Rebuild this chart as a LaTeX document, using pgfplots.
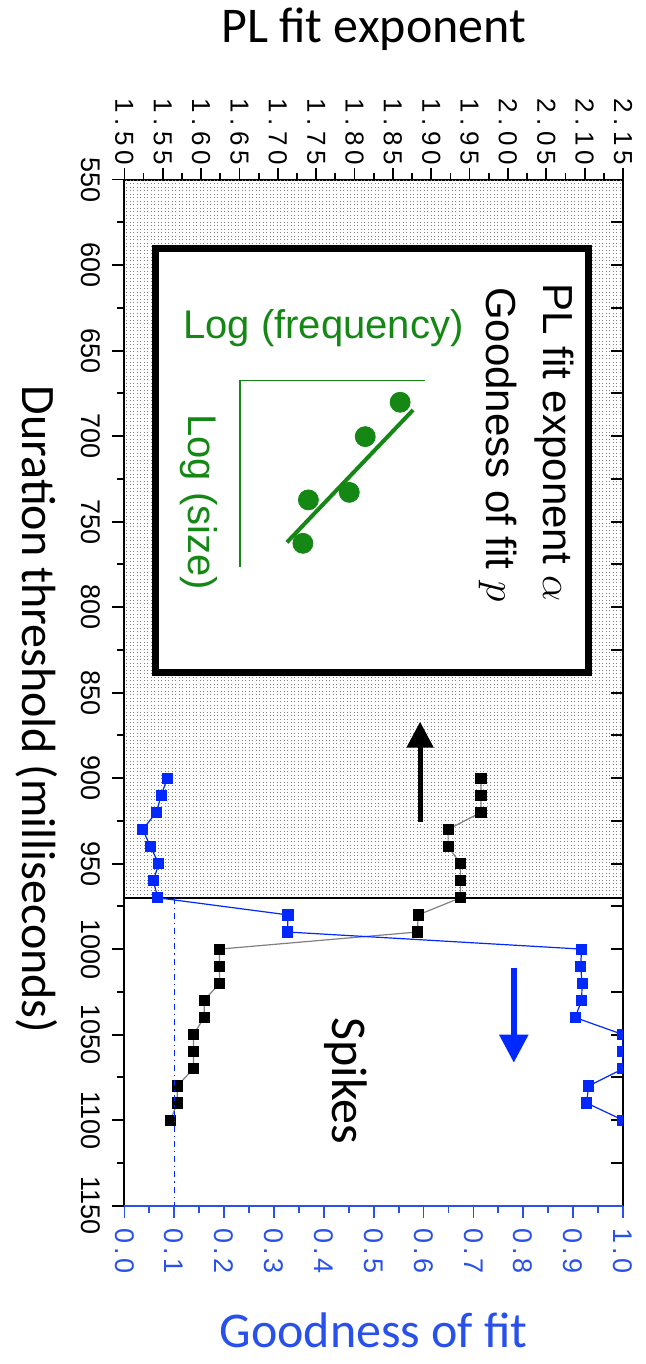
\documentclass[border=0pt]{standalone}
\usepackage{fontspec}
\usepackage{pgfplots}
\pgfplotsset{compat=1.18}
\usetikzlibrary{patterns,arrows.meta}
\setmainfont{Liberation Sans}
\newfontfamily\tickfont{Liberation Sans}
\newfontfamily\tickfontwide[LetterSpace=20]{Liberation Sans}
\newfontfamily\tickfontmid[LetterSpace=15]{Liberation Sans}
\newfontfamily\labfont{Carlito}
\definecolor{gofblue}{RGB}{0,40,255}
\definecolor{gofaxis}{RGB}{40,80,235}
\definecolor{inkgreen}{RGB}{20,135,20}
\pgfdeclarepatternformonly{finedots}{\pgfqpoint{-0.5pt}{-0.5pt}}{\pgfqpoint{2pt}{2pt}}{\pgfqpoint{1.75pt}{1.75pt}}{\pgfpathrectangle{\pgfqpoint{0pt}{0pt}}{\pgfqpoint{0.72pt}{0.72pt}}\pgfusepath{fill}}

\pgfplotstableread{
dur pl
900 1.965
910 1.965
920 1.965
930 1.922
940 1.922
950 1.938
960 1.938
970 1.938
980 1.883
990 1.882
1000 1.624
1010 1.624
1020 1.624
1030 1.604
1040 1.604
1050 1.590
1060 1.590
1070 1.590
1080 1.569
1090 1.569
1100 1.560
}\pltable

\pgfplotstableread{
dur gof
900 0.086
910 0.074
920 0.064
930 0.037
940 0.052
950 0.069
960 0.058
970 0.067
980 0.328
990 0.327
1000 0.917
1010 0.915
1020 0.918
1030 0.917
1040 0.904
1050 1.000
1060 1.000
1070 1.000
1080 0.931
1090 0.927
1100 1.000
}\goftable

\begin{document}
\begin{tikzpicture}
\useasboundingbox (0,0) rectangle (323pt,682pt);
% ---------------- Axis A : PL exponent (top) and duration (left)
\begin{axis}[
  name=A, at={(62.2pt,79.2pt)}, anchor=south west,
  scale only axis, width=249.3pt, height=513pt,
  xmin=1.5, xmax=2.15, ymin=550, ymax=1150, y dir=reverse,
  axis x line=top, axis y line=left,
  axis line style={-, line width=1pt, black},
  xtick={1.50,1.55,1.60,1.65,1.70,1.75,1.80,1.85,1.90,1.95,2.00,2.05,2.10,2.15},
  ytick={550,600,...,1150},
  minor x tick num=1, minor y tick num=1,
  tick align=outside, major tick length=6pt, minor tick length=3.5pt,
  every tick/.style={black, line width=0.9pt},
  /pgf/number format/assume math mode=true,
  xticklabel style={font={\tickfontwide\fontsize{13}{13}\selectfont}, rotate=-90, anchor=east, inner sep=1pt,
     /pgf/number format/fixed, /pgf/number format/precision=2, /pgf/number format/fixed zerofill},
  yticklabel style={font={\tickfont\fontsize{13.5}{13.5}\selectfont}, rotate=-90, anchor=north, inner sep=1pt,
     /pgf/number format/1000 sep={}},
  yticklabel shift=5pt,
  after end axis/.code={
    \node[font={\labfont\fontsize{25}{25}\selectfont}, anchor=base] at ([yshift=68.5pt]axis cs:1.825,550) {PL fit exponent};
    \node[font={\labfont\fontsize{24}{24}\selectfont}, rotate=-90, anchor=base] at ([xshift=-51pt]axis cs:1.5,860) {Duration threshold (milliseconds)};
  },
]
\fill[pattern=finedots, pattern color=black!50] (axis cs:1.5,550) rectangle (axis cs:2.15,970);
\draw[line width=0.8pt] (axis cs:1.5,970) -- (axis cs:2.15,970);
\addplot[gray, line width=0.6pt, mark=square*, mark size=2.5pt, mark options={fill=black, draw=black}] table[x=pl, y=dur] {\pltable};
\end{axis}
% ---------------- Axis C : inward ticks on the right
\begin{axis}[
  at={(62.2pt,79.2pt)}, anchor=south west,
  scale only axis, width=249.3pt, height=513pt,
  xmin=0, xmax=1, ymin=550, ymax=1150, y dir=reverse,
  axis x line=none, axis y line=right,
  axis line style={-, line width=1pt, black},
  ytick={550,600,...,1150}, minor y tick num=1, yticklabels={},
  tick align=inside, major tick length=6pt, minor tick length=6pt,
  every tick/.style={black, line width=0.9pt},
]
\end{axis}
% ---------------- Axis B : goodness of fit (bottom)
\begin{axis}[
  at={(62.2pt,79.2pt)}, anchor=south west,
  scale only axis, width=249.3pt, height=513pt,
  xmin=0, xmax=1, ymin=550, ymax=1150, y dir=reverse,
  axis x line=bottom, axis y line=none,
  axis line style={-, line width=1pt, gofaxis},
  xtick={0,0.1,...,1.0}, minor x tick num=1,
  tick align=outside, major tick length=6pt, minor tick length=3.5pt,
  every tick/.style={gofaxis, line width=0.9pt},
  /pgf/number format/assume math mode=true,
  xticklabel style={font={\tickfontmid\fontsize{13.5}{13.5}\selectfont}, text=gofaxis, rotate=-90, anchor=west, inner sep=1pt,
     /pgf/number format/fixed, /pgf/number format/precision=1, /pgf/number format/fixed zerofill},
  xticklabel shift=4pt,
  clip marker paths=true,
  after end axis/.code={
    \node[font={\labfont\fontsize{25}{25}\selectfont}, text=gofaxis, anchor=base] at ([yshift=-71pt]axis cs:0.5,1150) {Goodness of fit};
  },
]
% inset box
\draw[line width=3.5pt, fill=white] (axis cs:0.0625,590) rectangle (axis cs:0.930,838);
\draw[inkgreen, line width=0.75pt] (axis cs:0.603,667.5) -- (axis cs:0.232,667.5) -- (axis cs:0.232,776.7);
\addplot[inkgreen, line width=2pt, no marks] coordinates {(0.579,684.7) (0.326,762.1)};
\addplot[only marks, mark=*, mark size=5pt, inkgreen] coordinates {(0.553,680.2) (0.483,700.3) (0.451,732.9) (0.369,737.3) (0.358,762.7)};
\node[rotate=-90, anchor=base east, font={\fontsize{21}{21}\selectfont}] at (axis cs:0.840,800.9) {PL fit exponent $\alpha$};
\node[rotate=-90, anchor=base east, font={\fontsize{21}{21}\selectfont}] at (axis cs:0.727,800.9) {Goodness of fit $p$};
\node[anchor=base, text=inkgreen, font={\fontsize{20}{20}\selectfont}] at (axis cs:0.399,643.2) {Log (frequency)};
\node[rotate=-90, anchor=base west, text=inkgreen, font={\fontsize{20}{20}\selectfont}] at (axis cs:0.128,683.2) {Log (size)};
% annotations
\node[rotate=-90, anchor=base west, font={\labfont\fontsize{25}{25}\selectfont}] at (axis cs:0.417,1036) {Spikes};
\draw[gofblue, line width=2.75pt, -{Triangle[length=14pt,width=14pt]}] (axis cs:0.781,1010.8) -- (axis cs:0.781,1066.4);
\draw[black, line width=2.5pt, -{Triangle[length=13pt,width=13pt]}] (axis cs:0.593,925.4) -- (axis cs:0.593,867);
\draw[gofblue, line width=0.6pt, dash dot] (axis cs:0.1,970) -- (axis cs:0.1,1150);
\addplot[gofblue, line width=0.6pt, mark=square*, mark size=2.5pt, mark options={solid, fill=gofblue, draw=gofblue}] table[x=gof, y=dur] {\goftable};
\end{axis}
\end{tikzpicture}
\end{document}
